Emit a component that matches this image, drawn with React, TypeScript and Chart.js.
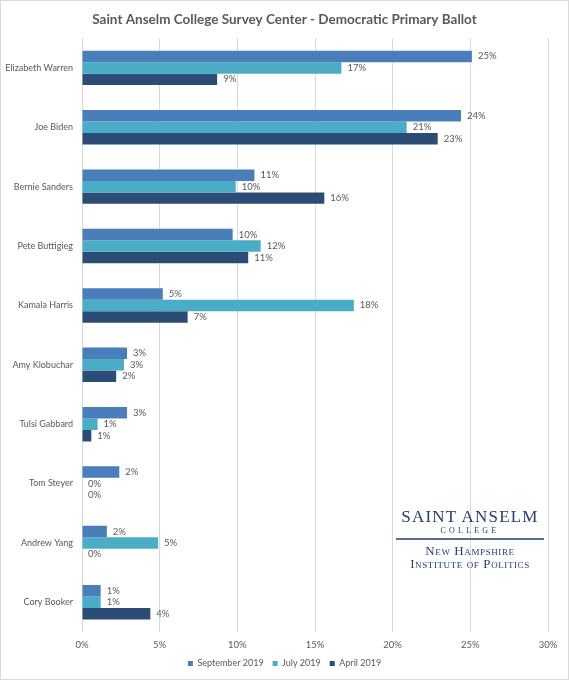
import React, { useEffect, useRef } from "react";
import { Chart, registerables } from "chart.js";

Chart.register(...registerables);

const titleText = "Saint Anselm College Survey Center - Democratic Primary Ballot";
const candidates = [
  "Elizabeth Warren",
  "Joe Biden",
  "Bernie Sanders",
  "Pete Buttigieg",
  "Kamala Harris",
  "Amy Klobuchar",
  "Tulsi Gabbard",
  "Tom Steyer",
  "Andrew Yang",
  "Cory Booker",
];
const seriesNames = ["September 2019", "July 2019", "April 2019"];
const september2019 = [25.1, 24.4, 11.1, 9.7, 5.2, 2.9, 2.9, 2.4, 1.6, 1.2];
const july2019 = [16.7, 20.9, 9.9, 11.5, 17.5, 2.7, 1.0, 0, 4.9, 1.2];
const april2019 = [8.7, 22.9, 15.6, 10.7, 6.8, 2.2, 0.6, 0, 0, 4.4];
const septemberLabels = ["25%", "24%", "11%", "10%", "5%", "3%", "3%", "2%", "2%", "1%"];
const julyLabels = ["17%", "21%", "10%", "12%", "18%", "3%", "1%", "0%", "5%", "1%"];
const aprilLabels = ["9%", "23%", "16%", "11%", "7%", "2%", "1%", "0%", "0%", "4%"];
const xTickValues = [0, 5, 10, 15, 20, 25, 30];
const seriesColors = ["#4A7EBB", "#4BACC6", "#2B4C74"];

const FONT = "Lato, 'Open Sans', 'Liberation Sans', sans-serif";
const TEXT = "#595959";

const valueLabelPlugin = {
  id: "valueLabels",
  afterDatasetsDraw(chart: any) {
    const ctx = chart.ctx;
    const labelSets = [septemberLabels, julyLabels, aprilLabels];
    ctx.save();
    ctx.font = `9.5px ${FONT}`;
    ctx.fillStyle = TEXT;
    ctx.textBaseline = "middle";
    ctx.textAlign = "left";
    chart.data.datasets.forEach((_: any, di: number) => {
      const meta = chart.getDatasetMeta(di);
      meta.data.forEach((bar: any, i: number) => {
        ctx.fillText(labelSets[di][i], bar.x + 6, bar.y);
      });
    });
    ctx.restore();
  },
};

// Center the title and legend on the full canvas width (not the padded area)
const centerBlocksPlugin = {
  id: "centerBlocks",
  afterLayout(chart: any) {
    const blocks = [chart.titleBlock, chart.legend];
    blocks.forEach((b: any) => {
      if (!b) return;
      b.left = 0;
      b.right = chart.width;
      b.width = chart.width;
    });
  },
};

export default function App() {
  const canvasRef = useRef<HTMLCanvasElement | null>(null);

  useEffect(() => {
    document.body.style.margin = "0";
    const canvas = canvasRef.current;
    if (!canvas) return;
    const chart = new Chart(canvas, {
      type: "bar",
      data: {
        labels: candidates,
        datasets: [
          { label: seriesNames[0], data: september2019, backgroundColor: seriesColors[0] },
          { label: seriesNames[1], data: july2019, backgroundColor: seriesColors[1] },
          { label: seriesNames[2], data: april2019, backgroundColor: seriesColors[2] },
        ],
      },
      options: {
        indexAxis: "y",
        animation: false,
        responsive: false,
        maintainAspectRatio: false,
        datasets: {
          bar: { categoryPercentage: 0.58, barPercentage: 1, borderWidth: 0 },
        },
        layout: { padding: { left: 0, right: 21, top: 0, bottom: 2 } },
        plugins: {
          tooltip: { enabled: false },
          title: {
            display: true,
            text: titleText,
            color: TEXT,
            font: { family: FONT, size: 13.5, weight: "bold" },
            padding: { top: 12, bottom: 10 },
          },
          legend: {
            position: "bottom",
            labels: {
              color: TEXT,
              font: { family: FONT, size: 9 },
              boxWidth: 5,
              boxHeight: 5,
              padding: 9,
            },
          },
        },
        scales: {
          x: {
            min: 0,
            max: 30,
            afterBuildTicks(scale: any) {
              scale.ticks = xTickValues.map((v) => ({ value: v }));
            },
            afterFit(scale: any) {
              scale.height = 18;
            },
            ticks: {
              color: TEXT,
              font: { family: FONT, size: 9.5 },
              padding: 7,
              callback: (v: any) => `${v}%`,
            },
            grid: { color: "#D9D9D9", lineWidth: 1, drawTicks: false },
            border: { display: false },
          },
          y: {
            afterFit(scale: any) {
              scale.width = 82;
            },
            ticks: {
              color: TEXT,
              font: { family: FONT, size: 9 },
              padding: 9,
            },
            grid: { display: false, drawTicks: false },
            border: { display: false },
          },
        },
      },
      plugins: [valueLabelPlugin, centerBlocksPlugin],
    });
    return () => chart.destroy();
  }, []);

  const serif = "'Liberation Serif', 'DejaVu Serif', serif";
  const navy = "#24406E";

  return (
    <div style={{ position: "relative", width: 569, height: 680, background: "#fff" }}>
      <canvas ref={canvasRef} width={569} height={680} style={{ display: "block" }} />
      <div
        style={{
          position: "absolute",
          left: 0,
          top: 0,
          width: 569,
          height: 680,
          boxSizing: "border-box",
          border: "1px solid #D9D9D9",
          pointerEvents: "none",
        }}
      />
      <div style={{ position: "absolute", left: 390, top: 505, width: 160, fontFamily: serif, color: navy, textAlign: "center" }}>
        <div style={{ position: "absolute", left: 0, top: 2, width: 160, fontSize: 17, letterSpacing: 1.2, lineHeight: "20px" }}>
          SAINT ANSELM
        </div>
        <div style={{ position: "absolute", left: 0, top: 21, width: 160, fontSize: 8, letterSpacing: 3.2, lineHeight: "10px" }}>
          COLLEGE
        </div>
        <div style={{ position: "absolute", left: 6, top: 33, width: 148, height: 2, background: "#5A6E8F" }} />
        <div style={{ position: "absolute", left: 0, top: 39, width: 160, fontSize: 13, fontVariant: "small-caps", letterSpacing: 0.6, lineHeight: "14px" }}>
          New Hampshire
        </div>
        <div style={{ position: "absolute", left: 0, top: 52, width: 160, fontSize: 13, fontVariant: "small-caps", letterSpacing: 0.6, lineHeight: "14px" }}>
          Institute of Politics
        </div>
      </div>
    </div>
  );
}
